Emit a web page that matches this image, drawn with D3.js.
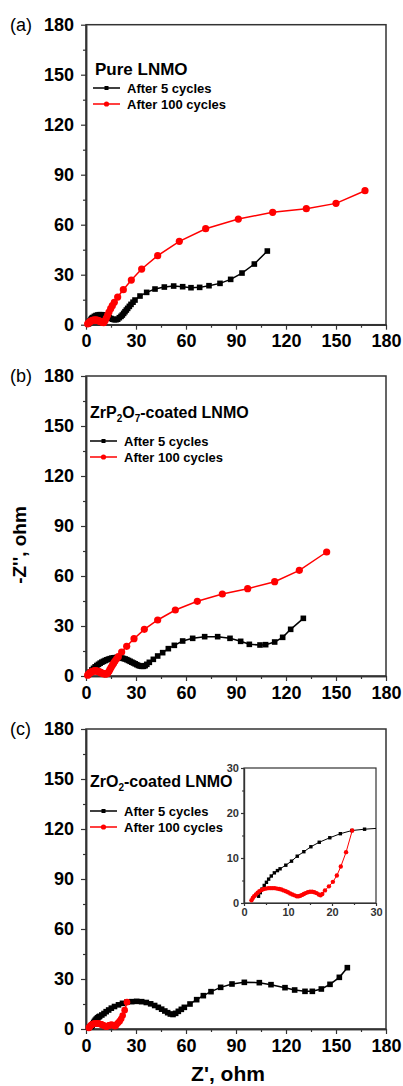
<!DOCTYPE html>
<html>
<head>
<meta charset="utf-8">
<script src="https://cdn.jsdelivr.net/npm/d3@7"></script>
<style>
  body { margin: 0; background: #fff; }
  svg text { font-family: 'Liberation Sans', Arial, Helvetica, sans-serif; }
</style>
</head>
<body>
<svg id="chart" width="403" height="1086"></svg>
<script>
// Nyquist plots of LNMO cathodes (a) pure, (b) ZrP2O7-coated, (c) ZrO2-coated

var X_TICKS = [0, 30, 60, 90, 120, 150, 180];
var Y_TICKS = [0, 30, 60, 90, 120, 150, 180];
var MINOR_TICKS = [15, 45, 75, 105, 135, 165];
var INSET_TICKS = [0, 10, 20, 30];
var INSET_MINOR = [5, 15, 25];
var SERIES_LABELS = ['After 5 cycles', 'After 100 cycles'];

// (a) pure LNMO  [Z', -Z'']
var pure5 = [
  [1.5, 0.5], [2, 1.5], [2.5, 2.4], [3, 3.2], [3.5, 3.8], [4, 4.3], [5, 5], [6, 5.5],
  [7, 5.8], [8, 6], [9, 6], [10, 5.9], [11, 5.6], [12, 5.2], [13, 4.7], [14, 4.2],
  [15, 3.7], [16, 3.3], [17, 3], [18, 3], [19, 3.3], [20, 4.2], [21, 5], [21.8, 5.8],
  [22.6, 6.8], [23.4, 7.8], [24.2, 8.8], [25, 9.8], [26, 11], [27, 12.2], [28.2, 13.5],
  [29.4, 14.8], [32.4, 17.2], [36.4, 19.4], [41.4, 21.4], [47, 22.6], [52.6, 23.2],
  [58, 22.8], [63, 22.2], [68.2, 22.4], [73.8, 23.4], [80.4, 24.8], [86.8, 27.2],
  [93.6, 31], [101, 36.4], [108.8, 44.2]
];
var pure100 = [
  [1, 0.5], [1.5, 1], [2, 1.5], [2.5, 1.9], [3, 2.2], [3.5, 2.4], [4, 2.6], [4.5, 2.7],
  [5, 2.8], [5.5, 2.8], [6, 2.8], [6.5, 2.7], [7, 2.6], [7.5, 2.4], [8, 2.2], [8.5, 2],
  [9, 1.8], [9.5, 1.6], [10, 1.4], [10.6, 1.2], [11.4, 2.4], [12.2, 4], [13, 5.8],
  [13.8, 7.6], [14.8, 9.6], [15.8, 11.4], [17, 13.4], [19, 16.6], [22.4, 21],
  [27.2, 26.8], [33.4, 33.4], [43, 41.4], [56, 50], [71.8, 57.6], [91.4, 63.4],
  [112, 67.4], [132.2, 69.6], [150, 72.8], [167.4, 80.4]
];

// (b) ZrP2O7-coated LNMO
var zrp5 = [
  [1.5, 1], [2.5, 2.4], [3.5, 3.6], [4.5, 4.6], [5.5, 5.5], [6.5, 6.3], [7.5, 7], [8.5, 7.7],
  [9.5, 8.3], [10.5, 8.8], [11.5, 9.3], [12.5, 9.7], [13.5, 10.1], [14.5, 10.4], [15.5, 10.7],
  [16.5, 10.9], [17.5, 11], [18.5, 11.1], [19.5, 11.1], [20.5, 11], [21.5, 10.8], [22.5, 10.5],
  [23.5, 10.2], [24.5, 9.8], [25.5, 9.3], [26.5, 8.8], [27.5, 8.3], [28.5, 7.8], [29.5, 7.3],
  [30.5, 6.8], [31.5, 6.3], [32.5, 6], [33.5, 5.8], [34.5, 5.8], [35.5, 6.2], [36.5, 7],
  [38, 8.2], [40.4, 10], [43, 12], [46, 14], [49.4, 16.4], [53, 18.4], [58, 21], [64, 22.6],
  [71.2, 23.6], [79, 23.6], [86.4, 22.6], [92.8, 20.8], [98, 19], [104.4, 18.6], [107.8, 18.8],
  [113.2, 20.4], [118, 23.2], [122.8, 28], [130.4, 34.6]
];
var zrp100 = [
  [1, 0.5], [1.5, 1.1], [2, 1.6], [2.5, 2], [3, 2.3], [3.5, 2.6], [4, 2.8], [4.5, 3],
  [5, 3.1], [5.5, 3.1], [6, 3.1], [6.5, 3], [7, 2.9], [7.5, 2.7], [8, 2.5], [8.5, 2.3],
  [9, 2], [9.5, 1.8], [10, 1.6], [10.5, 1.4], [11, 1.3], [11.5, 1.2], [12, 1.2], [12.5, 1.3],
  [13, 1.6], [13.8, 2.8], [14.4, 4], [15.1, 5.2], [15.8, 6.4], [16.6, 7.7], [17.4, 9],
  [18.4, 10.3], [19.4, 11.6], [21.4, 14.4], [24.4, 17.8], [28.8, 22.4], [35, 28],
  [43, 33.6], [53.6, 39.6], [66.8, 44.8], [81.8, 49.2], [97, 52.4], [113.2, 56.6],
  [128, 63.4], [144.4, 74.4]
];

// (c) ZrO2-coated LNMO
var zro5 = [
  [3.3, 1.5], [3.7, 2.3], [4.1, 3.1], [4.6, 3.9], [5.1, 4.6], [5.6, 5.3], [6.2, 6], [6.9, 6.7],
  [7.6, 7.2], [8.2, 7.6], [9.5, 8.4], [10.8, 9.3], [12.1, 10.4], [13.6, 11.4], [15.2, 12.5],
  [17.1, 13.5], [19.5, 14.5], [21.9, 15.4], [24.5, 16.1], [27.4, 16.4], [30.4, 16.6],
  [33.4, 16.4], [36.2, 15.9], [38.8, 15.1], [41.2, 14.1], [43.4, 13], [45.4, 11.9],
  [47.3, 10.8], [49, 9.8], [50.6, 9], [52.2, 8.7], [53.8, 9.4], [55.4, 10.6], [57.2, 11.8],
  [59, 13], [62.4, 15], [66.4, 17.6], [70.4, 20], [75, 22.4], [80.8, 25], [87.6, 27],
  [95, 28], [104, 27.8], [111, 26.6], [119.4, 24.8], [125.2, 23.4], [131.4, 22.6],
  [135.8, 22.6], [141.2, 24], [146.4, 26.8], [152, 31], [156.8, 36.8]
];
var zro100 = [
  [1.7, 0.6], [2, 1.1], [2.3, 1.5], [2.7, 1.9], [3.1, 2.3], [3.5, 2.6], [4, 2.9], [4.5, 3.1],
  [5, 3.2], [5.5, 3.3], [6, 3.3], [6.5, 3.3], [7, 3.3], [7.5, 3.2], [8, 3.1], [8.5, 3],
  [9, 2.8], [9.5, 2.6], [10, 2.4], [10.5, 2.1], [11, 1.9], [11.5, 1.7], [12, 1.5], [12.4, 1.5],
  [12.8, 1.6], [13.2, 1.8], [13.6, 2], [14, 2.2], [14.5, 2.4], [15, 2.5], [15.5, 2.5],
  [16, 2.4], [16.5, 2.2], [17, 1.9], [17.4, 1.7], [17.8, 2], [18.4, 2.8], [19.3, 3.7],
  [20.2, 4.7], [21.1, 6.1], [22, 8.1], [23.2, 11.3], [24.6, 16.1]
];

var BLACK = '#000000';
var RED = '#ff0000';
var AXIS = '#333333';

var svg = d3.select('#chart');
var LEFT = 86, WIDTH = 300, HEIGHT = 300;

var panels = [
  { top: 24.7, tag: '(a)', title: [['Pure LNMO']], titleSize: 17, s5: pure5, s100: pure100,
    titleX: 95, titleY: 75, legX: 93, legY: [88, 104], r: 3.6 },
  { top: 376, tag: '(b)', title: [['ZrP'], ['2', 1], ['O'], ['7', 1], ['-coated LNMO']], titleSize: 16,
    s5: zrp5, s100: zrp100, titleX: 90, titleY: 418, legX: 90, legY: [441, 457], r: 3.6 },
  { top: 729, tag: '(c)', title: [['ZrO'], ['2', 1], ['-coated LNMO']], titleSize: 16,
    s5: zro5, s100: zro100, titleX: 90, titleY: 787, legX: 90, legY: [811, 827], r: 3.3, inset: true }
];

function styleAxis(g, fontSize) {
  g.select('.domain').attr('stroke', AXIS).attr('stroke-width', 1.5);
  g.selectAll('.tick line').attr('stroke', AXIS).attr('stroke-width', 1.2);
  g.selectAll('.tick text').attr('fill', '#000').attr('font-size', fontSize).attr('font-weight', 'bold')
    .attr('font-family', "'Liberation Sans', Arial, sans-serif");
}

function drawSeries(g, data, x, y, opt) {
  var line = d3.line().x(function (d) { return x(d[0]); }).y(function (d) { return y(d[1]); });
  g.append('path').datum(data)
    .attr('d', line).attr('fill', 'none')
    .attr('stroke', opt.color).attr('stroke-width', opt.lw);
  if (opt.square) {
    g.selectAll(null).data(data).enter().append('rect')
      .attr('x', function (d) { return x(d[0]) - opt.size / 2; })
      .attr('y', function (d) { return y(d[1]) - opt.size / 2; })
      .attr('width', opt.size).attr('height', opt.size)
      .attr('fill', opt.color);
  } else {
    g.selectAll(null).data(data).enter().append('circle')
      .attr('cx', function (d) { return x(d[0]); })
      .attr('cy', function (d) { return y(d[1]); })
      .attr('r', opt.size).attr('fill', opt.color);
  }
}

panels.forEach(function (p) {
  var x = d3.scaleLinear().domain([0, 180]).range([LEFT, LEFT + WIDTH]);
  var y = d3.scaleLinear().domain([0, 180]).range([p.top + HEIGHT, p.top]);
  var g = svg.append('g');

  // frame
  g.append('rect').attr('x', LEFT).attr('y', p.top).attr('width', WIDTH).attr('height', HEIGHT)
    .attr('fill', 'none').attr('stroke', AXIS).attr('stroke-width', 1.5);

  // minor ticks
  g.append('g').attr('transform', 'translate(0,' + (p.top + HEIGHT) + ')')
    .call(d3.axisBottom(x).tickValues(MINOR_TICKS).tickSize(3).tickSizeOuter(0).tickFormat(''))
    .call(function (a) { styleAxis(a, 0); });
  g.append('g').attr('transform', 'translate(' + LEFT + ',0)')
    .call(d3.axisLeft(y).tickValues(MINOR_TICKS).tickSize(3).tickSizeOuter(0).tickFormat(''))
    .call(function (a) { styleAxis(a, 0); });

  // major axes
  g.append('g').attr('transform', 'translate(0,' + (p.top + HEIGHT) + ')')
    .call(d3.axisBottom(x).tickValues(X_TICKS).tickSize(5).tickSizeOuter(0).tickPadding(5))
    .call(function (a) { styleAxis(a, 18); });
  g.append('g').attr('transform', 'translate(' + LEFT + ',0)')
    .call(d3.axisLeft(y).tickValues(Y_TICKS).tickSize(5).tickSizeOuter(0).tickPadding(7))
    .call(function (a) { styleAxis(a, 18); });

  // data
  drawSeries(g, p.s5, x, y, { color: BLACK, lw: 1.5, square: true, size: 5.6 });
  drawSeries(g, p.s100, x, y, { color: RED, lw: 1.5, square: false, size: p.r });

  // panel tag
  g.append('text').attr('x', 10).attr('y', p.top + 6).attr('font-size', 18).text(p.tag);

  // title with subscripts
  var t = g.append('text').attr('x', p.titleX).attr('y', p.titleY)
    .attr('font-size', p.titleSize).attr('font-weight', 'bold');
  p.title.forEach(function (part) {
    var ts = t.append('tspan').text(part[0]);
    if (part[1]) ts.attr('font-size', 10).attr('dy', 4);
    else if (t.selectAll('tspan').size() > 1) ts.attr('dy', -4);
  });

  // legend
  [[BLACK, true], [RED, false]].forEach(function (it, i) {
    var ly = p.legY[i];
    g.append('line').attr('x1', p.legX).attr('x2', p.legX + 27).attr('y1', ly).attr('y2', ly)
      .attr('stroke', it[0]).attr('stroke-width', 1.5);
    if (it[1]) {
      g.append('rect').attr('x', p.legX + 13.5 - 2).attr('y', ly - 2).attr('width', 4).attr('height', 4).attr('fill', it[0]);
    } else {
      g.append('circle').attr('cx', p.legX + 13.5).attr('cy', ly).attr('r', 2.6).attr('fill', it[0]);
    }
    g.append('text').attr('x', p.legX + 34).attr('y', ly + 4.5)
      .attr('font-size', 13).attr('font-weight', 'bold').text(SERIES_LABELS[i]);
  });

  if (p.inset) drawInset(p);
});

function drawInset(p) {
  var L = 244, R = 376, T = 768, B = 903;
  var x = d3.scaleLinear().domain([0, 30]).range([L, R]);
  var y = d3.scaleLinear().domain([0, 30]).range([B, T]);
  var g = svg.append('g');

  g.append('rect').attr('x', L).attr('y', T).attr('width', R - L).attr('height', B - T)
    .attr('fill', '#fff').attr('stroke', AXIS).attr('stroke-width', 1.2);

  svg.append('clipPath').attr('id', 'insetClip')
    .append('rect').attr('x', L).attr('y', T).attr('width', R - L).attr('height', B - T);

  g.append('g').attr('transform', 'translate(0,' + B + ')')
    .call(d3.axisBottom(x).tickValues(INSET_MINOR).tickSize(2).tickSizeOuter(0).tickFormat(''))
    .call(function (a) { styleAxis(a, 0); });
  g.append('g').attr('transform', 'translate(' + L + ',0)')
    .call(d3.axisLeft(y).tickValues(INSET_MINOR).tickSize(2).tickSizeOuter(0).tickFormat(''))
    .call(function (a) { styleAxis(a, 0); });
  g.append('g').attr('transform', 'translate(0,' + B + ')')
    .call(d3.axisBottom(x).tickValues(INSET_TICKS).tickSize(3).tickSizeOuter(0).tickPadding(2))
    .call(function (a) { styleAxis(a, 11); });
  g.append('g').attr('transform', 'translate(' + L + ',0)')
    .call(d3.axisLeft(y).tickValues(INSET_TICKS).tickSize(3).tickSizeOuter(0).tickPadding(2))
    .call(function (a) { styleAxis(a, 11); });
  g.selectAll('.domain').attr('stroke-width', 1.2);
  g.selectAll('.tick text').attr('fill', '#333');

  var d = g.append('g').attr('clip-path', 'url(#insetClip)');
  drawSeries(d, p.s5, x, y, { color: BLACK, lw: 1, square: true, size: 3.4 });
  drawSeries(d, p.s100, x, y, { color: RED, lw: 1, square: false, size: 2.2 });
}

// axis titles
svg.append('text')
  .attr('transform', 'translate(26,545) rotate(-90)')
  .attr('text-anchor', 'middle').attr('font-size', 19).attr('font-weight', 'bold')
  .text("-Z'', ohm");
svg.append('text')
  .attr('x', 228).attr('y', 1081)
  .attr('text-anchor', 'middle').attr('font-size', 21).attr('font-weight', 'bold')
  .text("Z', ohm");
</script>
</body>
</html>
